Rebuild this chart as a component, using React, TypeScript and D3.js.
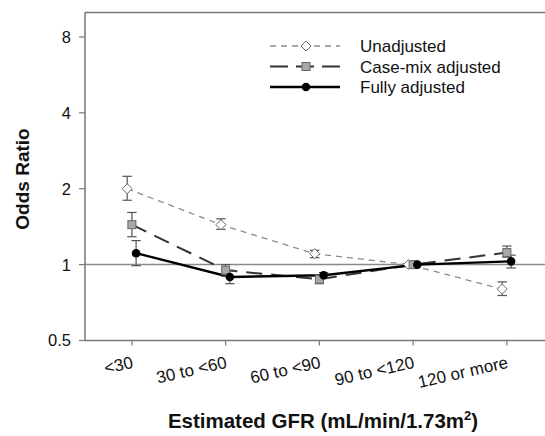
import React from 'react';
import * as d3 from 'd3';

// GFR categories along the x axis
const categories = ['<30', '30 to <60', '60 to <90', '90 to <120', '120 or more'];
const yTicks = [0.5, 1, 2, 4, 8];

// odds ratios with lower / upper CI
const unadjusted = [2.0, 1.44, 1.105, 1.0, 0.8];
const unadjustedLo = [1.8, 1.38, 1.066, 1.0, 0.754];
const unadjustedHi = [2.24, 1.52, 1.14, 1.0, 0.854];

const caseMix = [1.44, 0.95, 0.875, 1.0, 1.116];
const caseMixLo = [1.29, 0.9, 0.84, 1.0, 1.07];
const caseMixHi = [1.61, 1.0, 0.91, 1.0, 1.185];

const fully = [1.11, 0.893, 0.907, 1.0, 1.03];
const fullyLo = [0.99, 0.84, 0.885, 1.0, 0.97];
const fullyHi = [1.245, 0.95, 0.93, 1.0, 1.09];

const seriesNames = ['Unadjusted', 'Case-mix adjusted', 'Fully adjusted'];

const W = 545;
const H = 436;
const left = 85;
const top = 12.5;
const bottom = 340.5;

export default function App() {
  const x = d3.scaleLinear().domain([0.5, 5.5]).range([left, left + 5 * 93.75]);
  const y = d3.scaleLog().domain([0.5, 10]).range([bottom, top]);

  const series = [
    { name: seriesNames[0], v: unadjusted, lo: unadjustedLo, hi: unadjustedHi, off: -0.05, stroke: '#8a8a8a', width: 1.3, dash: '6,5', legendDash: '6,5', marker: 'diamond' },
    { name: seriesNames[1], v: caseMix, lo: caseMixLo, hi: caseMixHi, off: 0, stroke: '#333', width: 2, dash: '16,9', legendDash: '18,8', marker: 'square' },
    { name: seriesNames[2], v: fully, lo: fullyLo, hi: fullyHi, off: 0.045, stroke: '#000', width: 2.4, dash: null, legendDash: null, marker: 'circle' },
  ];

  const drawMarker = (kind: string, cx: number, cy: number, key?: string) => {
    if (kind === 'diamond') {
      const s = 5;
      return <path key={key} d={`M${cx},${cy - s}L${cx + s},${cy}L${cx},${cy + s}L${cx - s},${cy}Z`} fill="#fff" stroke="#6a6a6a" strokeWidth={1} />;
    }
    if (kind === 'square') {
      const s = 4;
      return <rect key={key} x={cx - s} y={cy - s} width={2 * s} height={2 * s} fill="#a8a8a8" stroke="#666" strokeWidth={1} />;
    }
    return <circle key={key} cx={cx} cy={cy} r={4.3} fill="#000" />;
  };

  const font = 'Arial, "Liberation Sans", sans-serif';

  return (
    <svg width={W} height={H} style={{ position: 'absolute', left: 0, top: 0, background: '#fff' }} fontFamily={font}>
      {/* frame */}
      <line x1={left} x2={x(5.5)} y1={top} y2={top} stroke="#777" strokeWidth={1.5} />
      <line x1={left} x2={left} y1={top} y2={bottom} stroke="#777" strokeWidth={1.5} />
      <line x1={left} x2={x(5.5)} y1={bottom} y2={bottom} stroke="#777" strokeWidth={1.5} />
      {/* reference line at OR = 1 */}
      <line x1={left} x2={x(5.5)} y1={y(1)} y2={y(1)} stroke="#8a8a8a" strokeWidth={1.5} />

      {/* y ticks */}
      {yTicks.map(t => (
        <g key={t}>
          <line x1={left - 6} x2={left} y1={y(t)} y2={y(t)} stroke="#777" strokeWidth={1.2} />
          <text x={left - 14} y={y(t)} dy="0.36em" textAnchor="end" fontSize={16.5} fill="#111">{t}</text>
        </g>
      ))}

      {/* x ticks */}
      {categories.map((c, i) => (
        <g key={c}>
          <line x1={x(i + 1)} x2={x(i + 1)} y1={bottom} y2={bottom + 5} stroke="#777" strokeWidth={1.2} />
          <text transform={`translate(${x(i + 1) + 2},${bottom + 27}) rotate(-13)`} textAnchor="end" fontSize={17} fill="#111">{c}</text>
        </g>
      ))}

      {/* lines */}
      {series.map(s => (
        <path key={s.name}
          d={d3.line<number>().x((_, i) => x(i + 1 + s.off)).y(d => y(d))(s.v) || ''}
          fill="none" stroke={s.stroke} strokeWidth={s.width} strokeDasharray={s.dash || undefined} />
      ))}

      {/* error bars */}
      {series.map(s => s.v.map((v, i) => {
        if (s.lo[i] === s.hi[i]) return null;
        const cx = x(i + 1 + s.off);
        return (
          <g key={s.name + i} stroke="#555" strokeWidth={1.2}>
            <line x1={cx} x2={cx} y1={y(s.lo[i])} y2={y(s.hi[i])} />
            <line x1={cx - 4.7} x2={cx + 4.7} y1={y(s.lo[i])} y2={y(s.lo[i])} />
            <line x1={cx - 4.7} x2={cx + 4.7} y1={y(s.hi[i])} y2={y(s.hi[i])} />
          </g>
        );
      }))}

      {/* markers */}
      {series.map(s => s.v.map((v, i) => drawMarker(s.marker, x(i + 1 + s.off), y(v), s.name + 'm' + i)))}

      {/* legend */}
      {series.map((s, i) => {
        const ly = 46 + i * 20.5;
        return (
          <g key={'lg' + s.name}>
            <line x1={270} x2={340} y1={ly} y2={ly} stroke={s.stroke} strokeWidth={s.width} strokeDasharray={s.legendDash || undefined} />
            {drawMarker(s.marker, 306, ly)}
            <text x={360} y={ly} dy="0.36em" fontSize={17} fill="#111">{s.name}</text>
          </g>
        );
      })}

      {/* axis titles */}
      <text transform={`translate(28.5,179) rotate(-90)`} textAnchor="middle" fontSize={19} fontWeight="bold" fill="#111">Odds Ratio</text>
      <text x={323} y={428} textAnchor="middle" fontSize={20.5} fontWeight="bold" fill="#111">
        Estimated GFR (mL/min/1.73m<tspan dy={-8} fontSize={13}>2</tspan><tspan dy={8}>)</tspan>
      </text>
    </svg>
  );
}
